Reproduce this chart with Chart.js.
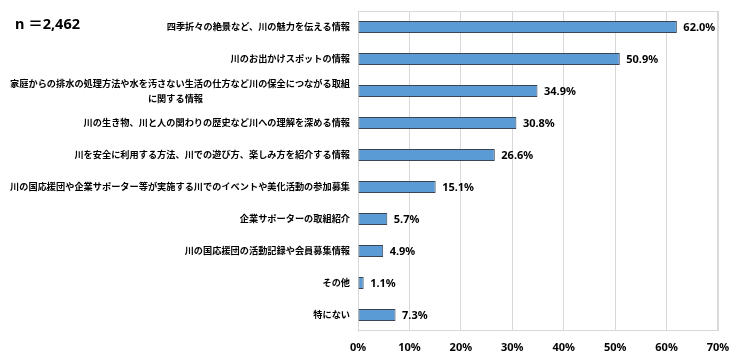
<!DOCTYPE html>
<html lang="ja">
<head>
<meta charset="UTF-8">
<title>川に関する情報</title>
<style>
  html, body { margin: 0; padding: 0; background: #fff; }
  .wrap { position: relative; width: 740px; height: 361px; }
  .nlabel {
    position: absolute; left: 15px; top: 13px;
    font: bold 14.5px "Noto Sans", "Noto Sans CJK JP", sans-serif;
    line-height: 20px;
    color: #000; white-space: pre;
  }
</style>
</head>
<body>
<div class="wrap">
  <canvas id="chart" width="740" height="361"></canvas>
  <div class="nlabel">n ＝2,462</div>
</div>

<script src="https://cdn.jsdelivr.net/npm/chart.js"></script>
<script>
  // 項目
  const categories = [
    '四季折々の絶景など、川の魅力を伝える情報',
    '川のお出かけスポットの情報',
    ['家庭からの排水の処理方法や水を汚さない生活の仕方など川の保全につながる取組',
     'に関する情報' + '\u3000'.repeat(15) + '\u2002\u2002'],
    '川の生き物、川と人の関わりの歴史など川への理解を深める情報',
    '川を安全に利用する方法、川での遊び方、楽しみ方を紹介する情報',
    '川の国応援団や企業サポーター等が実施する川でのイベントや美化活動の参加募集',
    '企業サポーターの取組紹介',
    '川の国応援団の活動記録や会員募集情報',
    'その他',
    '特にない'
  ];
  // 割合（%）
  const values = [62.0, 50.9, 34.9, 30.8, 26.6, 15.1, 5.7, 4.9, 1.1, 7.3];
  // 目盛
  const xMax = 70;
  const xStep = 10;

  // 棒の右に値を表示
  const valueLabels = {
    id: 'valueLabels',
    afterDatasetsDraw(chart) {
      const ctx = chart.ctx;
      const meta = chart.getDatasetMeta(0);
      ctx.save();
      ctx.font = 'bold 11px "Noto Sans", sans-serif';
      ctx.fillStyle = '#000';
      ctx.textAlign = 'left';
      ctx.textBaseline = 'middle';
      meta.data.forEach((bar, i) => {
        ctx.fillText(values[i].toFixed(1) + '%', bar.x + 6.5, bar.y + 1);
      });
      ctx.restore();
    }
  };

  // プロットエリアの枠
  const plotBorder = {
    id: 'plotBorder',
    beforeDatasetsDraw(chart) {
      const a = chart.chartArea;
      const ctx = chart.ctx;
      ctx.save();
      ctx.strokeStyle = '#d9d9d9';
      ctx.lineWidth = 1;
      ctx.strokeRect(a.left + 0.5, a.top + 0.5, a.right - a.left - 1, a.bottom - a.top - 1);
      ctx.restore();
    }
  };

  new Chart(document.getElementById('chart'), {
    type: 'bar',
    data: {
      labels: categories,
      datasets: [{
        data: values,
        backgroundColor: '#5b9bd5',
        borderColor: '#3a4656',
        borderWidth: 1,
        borderSkipped: false,
        categoryPercentage: 1,
        barPercentage: 0.38
      }]
    },
    options: {
      indexAxis: 'y',
      responsive: false,
      animation: false,
      layout: { padding: { top: 11, right: 22, left: 0, bottom: 0 } },
      plugins: {
        legend: { display: false },
        tooltip: { enabled: false }
      },
      scales: {
        x: {
          min: 0,
          max: xMax,
          afterFit(scale) { scale.height = 30; },
          ticks: {
            stepSize: xStep,
            padding: 10,
            color: '#000',
            font: { family: '"Noto Sans", sans-serif', size: 11, weight: 'bold' },
            callback: (v) => v + '%'
          },
          grid: { color: '#d9d9d9', drawTicks: false },
          border: { display: false }
        },
        y: {
          afterFit(scale) {
            scale.width = 358;
            scale.paddingTop = 0;
            scale.paddingBottom = 0;
          },
          ticks: {
            autoSkip: false,
            padding: 8,
            color: '#000',
            font: { family: '"Noto Sans CJK JP", sans-serif', size: 9.2, weight: 'bold', lineHeight: 1.65 }
          },
          grid: { display: false, drawTicks: false },
          border: { display: true, color: '#d9d9d9' }
        }
      }
    },
    plugins: [plotBorder, valueLabels]
  });
</script>
</body>
</html>
